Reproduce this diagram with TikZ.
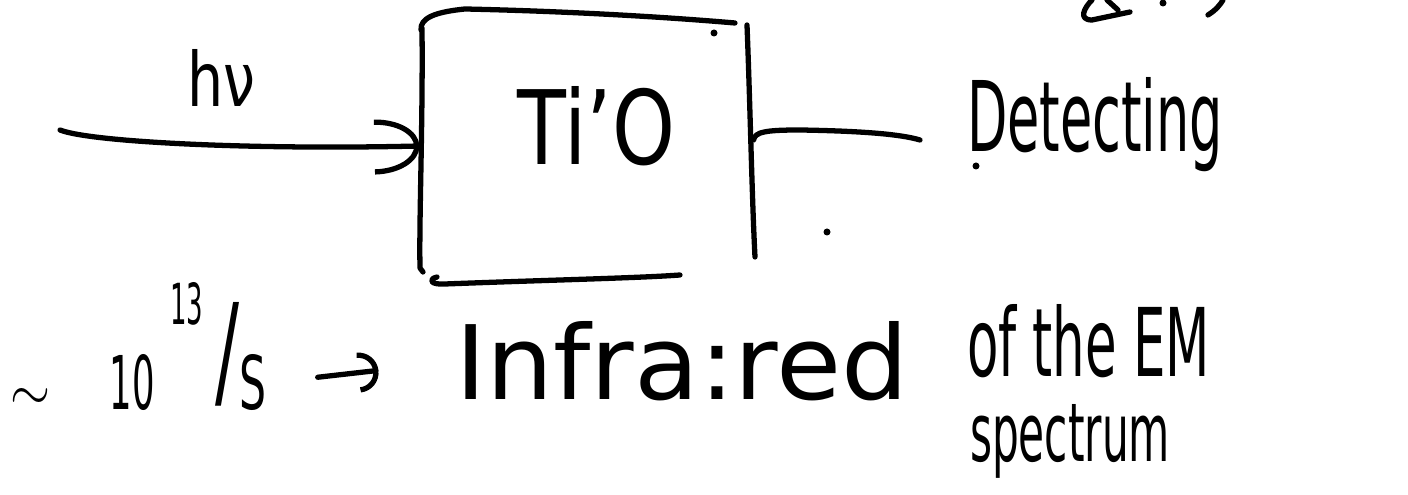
\documentclass[tikz,border=0pt]{standalone}
\usepackage{fontspec}
\setmainfont{DejaVu Sans}
\usetikzlibrary{arrows.meta,calc}
\newcommand{\hw}[3]{\resizebox{#1}{#2}{#3}}
\begin{document}
\begin{tikzpicture}[x=0.01cm,y=-0.01cm,
  pen/.style={line width=1.5pt,line cap=round,line join=round},
  txt/.style={inner sep=0pt,outer sep=0pt,anchor=base west},
  dotmark/.style={fill,circle,inner sep=0pt,minimum size=0.07cm},
  barb/.style={-{Arc Barb[length=0.45cm,width=0.55cm,line width=1.5pt]}},
  smallbarb/.style={-{Arc Barb[length=0.2cm,width=0.4cm,line width=1.5pt]}}]
\useasboundingbox (0,0) rectangle (1408,495);
\fill[white] (0,0) rectangle (1408,495);

% box
\node[minimum width=3.35cm,minimum height=2.75cm,inner sep=0pt,outer sep=0pt] (box) at (587,146) {};
\node[txt] (tio) at (518,165) {\hw{1.57cm}{0.78cm}{Ti'O}};
\draw[pen] (421,30) .. controls (420,18) and (435,12) .. (465,9) .. controls (600,12) and (700,20) .. (735,23);
\draw[pen] (422,28) .. controls (423,120) and (419,220) .. (420,268) -- (423,272);
\draw[pen] (437,277) .. controls (428,279) and (430,285) .. (445,284) .. controls (550,280) and (640,278) .. (680,275);
\draw[pen] (747,25) .. controls (750,100) and (752,200) .. (755,257);
\node[dotmark] (d1) at (714,33) {};

% incoming photon
\node[txt] (hnu) at (187,107) {\hw{0.68cm}{0.57cm}{hν}};
\coordinate (hstart) at (60,130);
\draw[pen,barb] (hstart) .. controls (90,142) and (250,150) .. (box.west);

% detecting
\node[txt] (det) at (967,152) {\hw{2.56cm}{0.74cm}{Detecting}};
\coordinate (rend) at (920,140);
\draw[pen] ([shift={(-1,-6)}]box.east) .. controls (755,132) and (765,130) .. (800,130) .. controls (860,131) and (900,134) .. (rend);
\node[dotmark] (d2) at (827,232) {};
\node[dotmark] (d3) at (976,166) {};

% bottom line
\node[anchor=center,inner sep=0pt] (tilde) at (31,400) {\hw{0.4cm}{0.22cm}{$\sim$}};
\node[txt] (ten) at (110,410) {\hw{0.45cm}{0.55cm}{10}};
\node[txt] (exp) at (170,325) {\hw{0.33cm}{0.42cm}{13}};
\node[txt] (slash) at (215,395) {\hw{0.24cm}{0.92cm}{/}};
\node[txt] (s) at (240,410) {\hw{0.27cm}{0.55cm}{S}};
\node[txt] (infra) at (455,400) {\hw{4.53cm}{0.78cm}{Infra:red}};
\draw[pen,smallbarb,shorten <=0.51cm,shorten >=0.77cm] (s.east) -- (infra.west);
\node[txt] (ofthe) at (967,377) {\hw{2.43cm}{0.72cm}{of the EM}};
\node[txt] (spec) at (970,462) {\hw{2.00cm}{0.57cm}{spectrum}};

% cut-off writing at the top edge
\draw[pen] (1092,0) .. controls (1084,8) and (1078,20) .. (1092,20) -- (1130,12);
\draw[pen] (1107,0) -- (1118,10);
\node[dotmark] (d4) at (1163,3) {};
\draw[pen] (1208,15) .. controls (1216,10) and (1220,5) .. (1223,0);
\end{tikzpicture}
\end{document}
